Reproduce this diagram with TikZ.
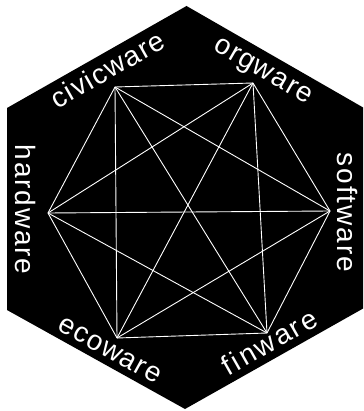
\documentclass[tikz,border=0pt]{standalone}
\usepackage{fontspec}
\newfontfamily\hexfont{Liberation Sans}
\newcommand\hextext{\hexfont\fontsize{28}{32}\selectfont}
\makeatletter
\newcommand\spread[2]{\@tfor\ch:=#2\do{\ch\kern#1}\unkern}
\makeatother
\tikzset{edge/.style={white,line width=0.9pt},
  word/.style={text=white,inner sep=0pt,anchor=base,font=\hextext}}

\begin{document}
\begin{tikzpicture}[x=1pt,y=-1pt]
\useasboundingbox (0,0) rectangle (363,411);
\begin{scope}
\clip (0,0) rectangle (363,411);
\fill[white] (0,0) rectangle (363,411);
\fill[black] (186.5,6)--(364,108)--(364,308)--(185,409)--(7,310)--(7,108)--cycle;
\end{scope}
\coordinate (v1) at (115,87);
\coordinate (v2) at (253,83);
\coordinate (v3) at (330,211);
\coordinate (v4) at (267,333);
\coordinate (v5) at (117,338);
\coordinate (v6) at (48,213);
\foreach \a/\b in {1/2,1/3,1/4,1/5,1/6,2/3,2/4,2/5,2/6,3/4,3/5,3/6,4/5,4/6,5/6}
  \draw[edge] (v\a)--(v\b);
\node[word,rotate=29.5] (civic) at (112.5,78.1) {\spread{1.4pt}{civicware}};
\node[word,rotate=-30] (org) at (259.6,76.9) {\spread{1.3pt}{orgware}};
\node[word,rotate=-90] (soft) at (337.5,212.5) {\spread{2pt}{software}};
\node[word,rotate=-90] (hard) at (15,209.5) {\spread{1.8pt}{hardware}};
\node[word,rotate=-29] (eco) at (106,357) {\spread{1.3pt}{ecoware}};
\node[word,rotate=29.6] (fin) at (274.2,350.4) {\spread{2.4pt}{finware}};
\end{tikzpicture}
\end{document}
